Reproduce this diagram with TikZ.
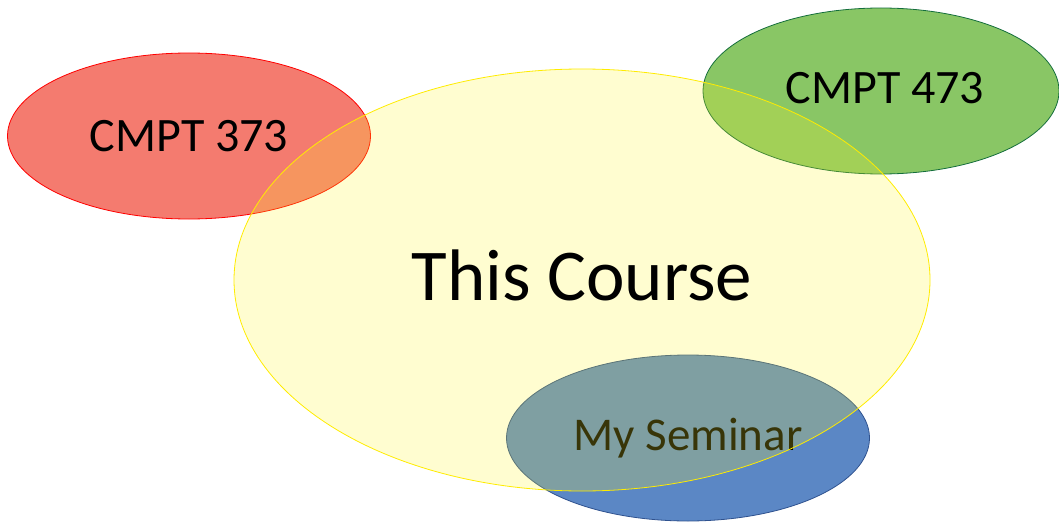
\documentclass[tikz,border=0pt]{standalone}
\usepackage{fontspec}
\setmainfont{Carlito}
\usetikzlibrary{shapes.geometric}
\definecolor{redfill}{RGB}{244,123,111}
\definecolor{greenfill}{RGB}{137,198,101}
\definecolor{greenline}{RGB}{20,110,60}
\definecolor{bluefill}{RGB}{91,135,197}
\definecolor{blueline}{RGB}{47,82,143}
\definecolor{yellowfill}{RGB}{255,245,40}
\definecolor{yellowline}{RGB}{255,236,0}

\begin{document}
\begin{tikzpicture}[x=1pt,y=-1pt,
	blob/.style={ellipse, inner sep=0pt, line width=0.8pt},
	small/.style={font=\fontsize{48}{56}\selectfont}]
	\useasboundingbox (0,0) rectangle (1059,524);
	
	% Neighbouring courses
	\node[blob, draw=red, fill=redfill, minimum width=363pt, minimum height=166pt, small]
		(cmptA) at (189,136) {CMPT 373};
	\node[blob, draw=greenline, fill=greenfill, minimum width=356pt, minimum height=166pt, small,
		text depth=6pt] (cmptB) at (881,91) {\hspace{8pt}CMPT 473};
	
	% Seminar
	\node[blob, draw=blueline, fill=bluefill, minimum width=363pt, minimum height=166pt,
		font=\fontsize{47}{55}\selectfont] (seminar) at (688,438) {My Seminar};
	
	% The course on top, see-through
	\node[blob, draw=yellowline, fill=yellowfill, fill opacity=0.22, text opacity=1,
		minimum width=696pt, minimum height=422pt] (course) at (582,280) {};
	\node[font=\fontsize{73}{85}\selectfont] (coursetext) at ([yshift=5pt]course.center) {This Course};
	
\end{tikzpicture}
\end{document}
